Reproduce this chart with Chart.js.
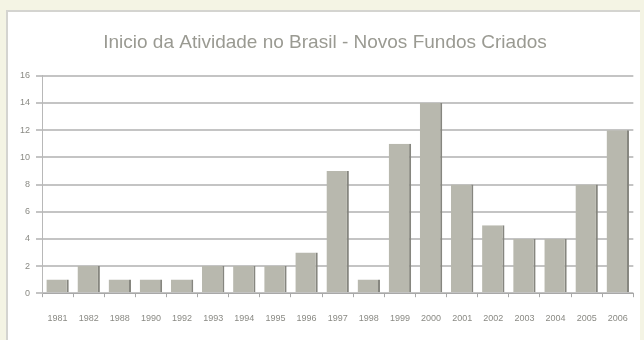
<!DOCTYPE html>
<html><head><meta charset="utf-8">
<script src="https://cdn.jsdelivr.net/npm/chart.js@4"></script>
<style>html,body{margin:0;padding:0;background:#f4f4e4;}#wrap{width:644px;height:340px;}</style>
</head><body><div id="wrap"><canvas id="c" width="644" height="340"></canvas></div>
<script>
const categories = ["1981","1982","1988","1990","1992","1993","1994","1995","1996","1997","1998","1999","2000","2001","2002","2003","2004","2005","2006"];
const fundos = [1,2,1,1,1,2,2,2,3,9,1,11,14,8,5,4,4,8,12];
const yTicks = [0,2,4,6,8,10,12,14,16];

const bgPlugin = {
  id:'bg',
  beforeDraw(chart){
    const ctx = chart.ctx;
    ctx.save();
    ctx.fillStyle = '#f4f4e4';
    ctx.fillRect(0,0,644,340);
    ctx.fillStyle = '#ffffff';
    ctx.fillRect(6,10,634,330);
    ctx.strokeStyle = '#d4d4d0';
    ctx.lineWidth = 2;
    ctx.beginPath();
    ctx.moveTo(7,340); ctx.lineTo(7,11); ctx.lineTo(640,11);
    ctx.stroke();
    ctx.restore();
  }
};

new Chart(document.getElementById('c'), {
  type:'bar',
  data:{
    labels: categories,
    datasets:[{
      label:'Novos Fundos',
      data: fundos,
      backgroundColor:'#b8b8ae',
      borderColor:'#86867f',
      borderWidth:{left:0,right:2,top:0,bottom:0},
      borderSkipped:false,
      categoryPercentage:0.72,
      barPercentage:1.0
    }]
  },
  options:{
    responsive:false,
    animation:false,
    layout:{padding:{left:14,right:8,top:12,bottom:0}},
    plugins:{
      legend:{display:false},
      tooltip:{enabled:false},
      title:{display:true,text:'Inicio da Atividade no Brasil - Novos Fundos Criados',
        color:'#9a9a92',font:{family:'Liberation Sans, Arial',size:19,weight:'normal'},
        padding:{top:19,bottom:22}}
    },
    scales:{
      x:{
        grid:{display:true,drawOnChartArea:false,offset:true,tickLength:4,color:'#a8a8a8'},
        border:{display:true,color:'#a8a8a8',width:1},
        ticks:{color:'#8a8a84',font:{family:'Liberation Sans, Arial',size:9},maxRotation:0,autoSkip:false,padding:16}
      },
      y:{
        min:0,max:16,
        afterBuildTicks(axis){axis.ticks = yTicks.map(v=>({value:v}));},
        grid:{color:'#c4c4c4',lineWidth:2,tickLength:6,drawTicks:true},
        border:{display:true,color:'#b8b8b8',width:1},
        ticks:{color:'#8a8a84',font:{family:'Liberation Sans, Arial',size:9},padding:6}
      }
    }
  },
  plugins:[bgPlugin]
});
</script>
</body></html>
